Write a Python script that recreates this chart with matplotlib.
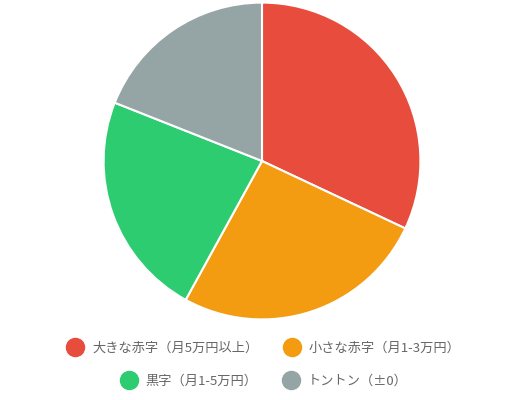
import matplotlib.pyplot as plt
from matplotlib.lines import Line2D

plt.rcParams['font.family'] = ['Noto Sans CJK JP', 'DejaVu Sans']

labels = ["大きな赤字（月5万円以上）", "小さな赤字（月1-3万円）", "黒字（月1-5万円）", "トントン（±0）"]
values = [32, 26, 23, 19]
colors = ["#e74c3c", "#f39c12", "#2ecc71", "#95a5a6"]

fig = plt.figure(figsize=(5.23, 4.0), dpi=100)
ax = fig.add_axes([102 / 523, 79 / 400, 320 / 523, 320 / 400])
ax.pie(values, colors=colors, startangle=90, counterclock=False,
       wedgeprops=dict(edgecolor="white", linewidth=1.5))
ax.set_aspect("equal")
ax.set_xlim(-1.01, 1.01)
ax.set_ylim(-1.01, 1.01)

def handles(idx):
    return [Line2D([], [], marker="o", linestyle="", markersize=13,
                   markerfacecolor=colors[i], markeredgecolor=colors[i]) for i in idx]

for idx, y in [((0, 1), 348 / 400), ((2, 3), 381 / 400)]:
    fig.legend(handles(idx), [labels[i] for i in idx], ncol=2, loc="center",
               bbox_to_anchor=(0.5, 1 - y), frameon=False, fontsize=9.5,
               labelcolor="#666666", handletextpad=0.3, columnspacing=1.5)

fig.savefig("out.png", dpi=100)
